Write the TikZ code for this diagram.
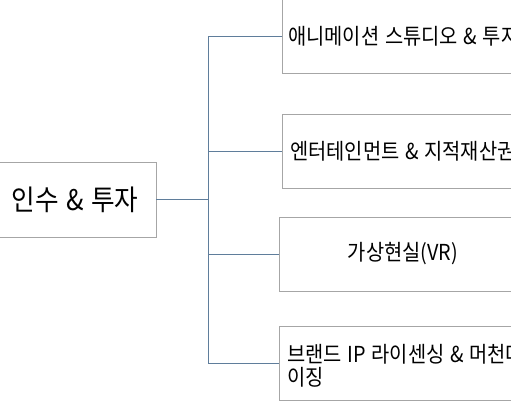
\documentclass[tikz,border=0pt]{standalone}
\usepackage{fontspec}
\newfontfamily\kr[FakeStretch=0.9,WordSpace=1.3]{Noto Sans CJK KR}
\definecolor{boxline}{HTML}{A6A6A6}
\definecolor{connline}{HTML}{5F7D9B}
\begin{document}
\begin{tikzpicture}[x=1pt,y=-1pt,
  box/.style={draw=boxline,line width=0.9pt,fill=white,minimum width=248pt,minimum height=74pt,inner sep=0pt,outer sep=0pt},
  mainbox/.style={draw=boxline,line width=0.9pt,fill=white,minimum width=162pt,minimum height=75pt,inner sep=0pt,outer sep=0pt,font=\kr\fontsize{28.5}{32}\selectfont},
  lbl/.style={anchor=west,inner sep=0pt,font=\kr\fontsize{22}{22.5}\selectfont,align=left},
  conn/.style={draw=connline,line width=0.9pt}]
\useasboundingbox (0,0) rectangle (511,400);
\clip (0,0) rectangle (511,400);
\fill[white] (0,0) rectangle (511,400);
% main box
\node[mainbox] (main) at (75,199.5) {인수 \& 투자};
% sub boxes
\node[box] (b1) at (406,36) {};
\node[box] (b2) at (406,151) {};
\node[box] (b3) at (403,254) {};
\node[box] (b4) at (403,363) {};
% labels
\node[lbl] (t1) at ([xshift=6pt]b1.west) {애니메이션 스튜디오 \& 투자};
\node[lbl] (t2) at ([xshift=8pt]b2.west) {엔터테인먼트 \& 지적재산권};
\node[lbl,anchor=center] (t3) at (b3.center) {가상현실(VR)};
\node[lbl] (t4) at ([xshift=8pt,yshift=-3pt]b4.west) {브랜드 IP 라이센싱 \& 머천다\\이징};
% connectors
\coordinate (trunk) at (208,199);
\draw[conn] (main.east |- 0,199) -- (trunk);
\draw[conn] (b1.west) -| (trunk);
\draw[conn] (b2.west) -| (trunk);
\draw[conn] (b3.west) -| (trunk);
\draw[conn] (b4.west) -| (trunk);
\end{tikzpicture}
\end{document}
